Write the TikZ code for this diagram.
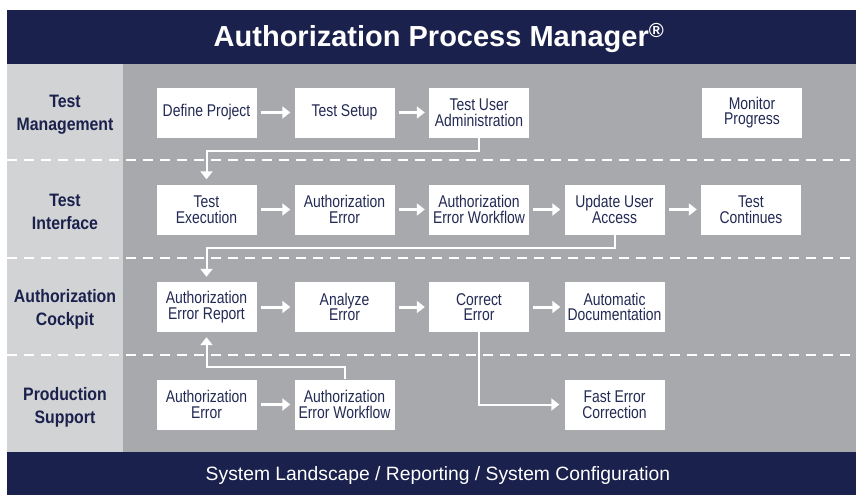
\documentclass[tikz,border=0pt]{standalone}
\usepackage{fontspec}
\setmainfont{Liberation Sans}
\newfontfamily\narrowfont[FakeStretch=0.82]{Liberation Sans}
\newfontfamily\lanefont[FakeStretch=0.88]{Liberation Sans}
\usetikzlibrary{arrows.meta}

\definecolor{navy}{RGB}{27,33,77}
\definecolor{boxtext}{RGB}{35,42,84}
\definecolor{lanegray}{RGB}{209,211,212}
\definecolor{areagray}{RGB}{167,169,172}

\tikzset{
  stepbox/.style={fill=white, minimum width=100pt, minimum height=50pt, inner sep=0pt,
    align=center, text=boxtext, font=\narrowfont\fontsize{17}{15.5}\selectfont},
  lanelabel/.style={align=center, text=navy, font=\lanefont\bfseries\fontsize{18}{23}\selectfont},
  flow/.style={draw=white, line width=3pt, -{Triangle[length=8pt,width=12pt]},
    shorten >=4pt, shorten <=4pt},
  link/.style={draw=white, line width=2pt, -{Triangle[length=8pt,width=12pt]}, shorten >=5pt},
  lane/.style={draw=white, line width=2pt, dash pattern=on 10pt off 7pt}
}

\begin{document}
\begin{tikzpicture}[x=1pt,y=-1pt]
  \useasboundingbox (0,0) rectangle (856,495);
  % background bands
  \fill[navy] (7,10) rectangle (856,64);
  \fill[lanegray] (7,64) rectangle (123,452);
  \fill[areagray] (123,64) rectangle (856,452);
  \fill[navy] (7,452) rectangle (856,495);
  \foreach \y in {160,258,355}
    \draw[lane] (7,\y) -- (856,\y);

  \node[text=white, font=\bfseries\fontsize{29}{31}\selectfont] (title) at (439,38)
    {Authorization Process Manager\textsuperscript{®}};
  \node[text=white, font=\fontsize{19.3}{21}\selectfont] (footer) at (438,476)
    {System Landscape / Reporting / System Configuration};

  % lane labels
  \node[lanelabel] (lanetest) at (65,115) {Test\\Management};
  \node[lanelabel] (laneiface) at (65,212) {Test\\Interface};
  \node[lanelabel] (lanecockpit) at (65,309) {Authorization\\Cockpit};
  \node[lanelabel] (laneprod) at (65,407) {Production\\Support};

  % test management
  \node[stepbox] (define) at (206.5,112.5) {Define Project};
  \node[stepbox] (setup) at (344.5,112.5) {Test Setup};
  \node[stepbox] (users) at (479,112.5) {Test User\\Administration};
  \node[stepbox] (monitor) at (752,112.5) {Monitor\\Progress};

  % test interface
  \node[stepbox] (exec) at (206.5,209.5) {Test\\Execution};
  \node[stepbox] (autherr) at (344.5,209.5) {Authorization\\Error};
  \node[stepbox] (workflow) at (479,209.5) {Authorization\\Error Workflow};
  \node[stepbox] (access) at (614.5,209.5) {Update User\\Access};
  \node[stepbox] (continues) at (751,209.5) {Test\\Continues};

  % authorization cockpit
  \node[stepbox] (report) at (206.5,307) {Authorization\\Error Report};
  \node[stepbox] (analyze) at (344.5,307) {Analyze\\Error};
  \node[stepbox] (correct) at (479,307) {Correct\\Error};
  \node[stepbox] (docu) at (614.5,307) {Automatic\\Documentation};

  % production support
  \node[stepbox] (proderr) at (206.5,404.5) {Authorization\\Error};
  \node[stepbox] (prodflow) at (344.5,404.5) {Authorization\\Error Workflow};
  \node[stepbox] (fastfix) at (614.5,404.5) {Fast Error\\Correction};

  % flow
  \draw[flow] (define) -- (setup);
  \draw[flow] (setup) -- (users);
  \draw[flow] (exec) -- (autherr);
  \draw[flow] (autherr) -- (workflow);
  \draw[flow] (workflow) -- (access);
  \draw[flow] (access) -- (continues);
  \draw[flow] (report) -- (analyze);
  \draw[flow] (analyze) -- (correct);
  \draw[flow] (correct) -- (docu);
  \draw[flow] (proderr) -- (prodflow);

  \draw[link] (users.south) -- ++(0,13) -| (exec.north);
  \draw[link] (access.south) -- ++(0,13) -| (report.north);
  \draw[link] (prodflow.north) -- ++(0,-12) -| (report.south);
  \draw[link] (correct.south) |- (fastfix.west);
\end{tikzpicture}
\end{document}
